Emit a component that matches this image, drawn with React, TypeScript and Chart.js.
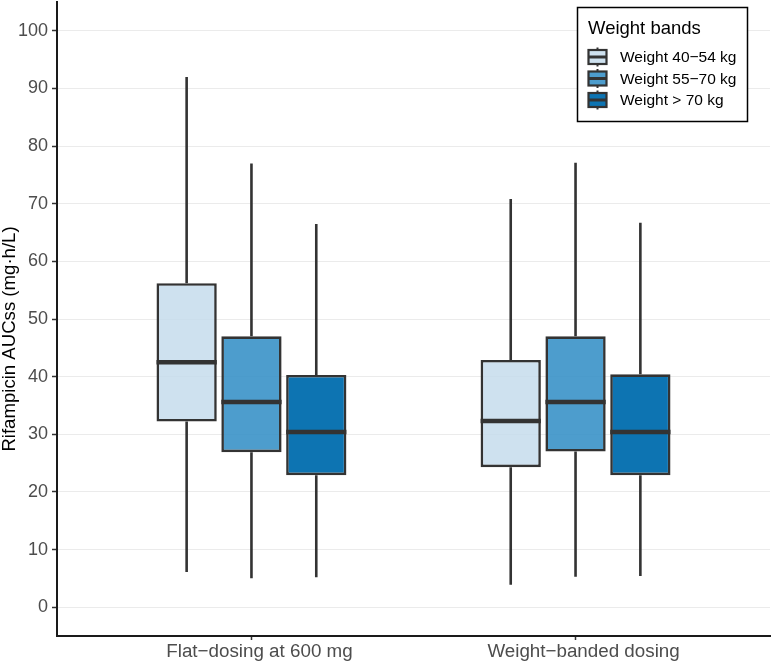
import React, { useEffect, useRef } from "react";
import { Chart, registerables } from "chart.js";

Chart.register(...registerables);

// ---- data ----
const categories = ["Flat\u2212dosing at 600 mg", "Weight\u2212banded dosing"];
const bands = ["Weight 40\u221254 kg", "Weight 55\u221270 kg", "Weight > 70 kg"];
const yTitle = "Rifampicin AUCss (mg\u00b7h/L)";
// each inner array: [flat-dosing, weight-banded]
const whiskerLow = [
  [6.1, 3.9],
  [5.0, 5.3],
  [5.2, 5.4],
];
const quartile1 = [
  [32.2, 24.3],
  [26.9, 27.0],
  [22.9, 22.9],
];
const medians = [
  [42.5, 32.3],
  [35.6, 35.6],
  [30.4, 30.4],
];
const quartile3 = [
  [56.2, 42.9],
  [47.0, 47.0],
  [40.3, 40.4],
];
const whiskerHigh = [
  [92.0, 70.8],
  [77.0, 77.1],
  [66.5, 66.7],
];
const yTicks = [0, 10, 20, 30, 40, 50, 60, 70, 80, 90, 100];

const fills = ["rgba(198,220,236,0.85)", "rgba(52,144,198,0.88)", "rgba(5,112,176,0.97)"];
const edge = "#333333";
const dodge = 0.2;
const FONT = "'Liberation Sans', Arial, sans-serif";

const xOf = (cat: number, band: number) => cat + 1 + (band - 1) * dodge;

const boxExtras = {
  id: "boxExtras",
  beforeDatasetsDraw(chart: any) {
    const { ctx, scales } = chart;
    const x = scales.x, y = scales.y;
    ctx.save();
    ctx.strokeStyle = edge;
    ctx.lineWidth = 2.6;
    ctx.lineCap = "butt";
    bands.forEach((_, b) => {
      categories.forEach((__, c) => {
        const px = x.getPixelForValue(xOf(c, b));
        ctx.beginPath();
        ctx.moveTo(px, y.getPixelForValue(whiskerLow[b][c]));
        ctx.lineTo(px, y.getPixelForValue(quartile1[b][c]));
        ctx.moveTo(px, y.getPixelForValue(quartile3[b][c]));
        ctx.lineTo(px, y.getPixelForValue(whiskerHigh[b][c]));
        ctx.stroke();
      });
    });
    ctx.restore();
  },
  afterDatasetsDraw(chart: any) {
    const { ctx, scales } = chart;
    const y = scales.y;
    ctx.save();
    ctx.strokeStyle = edge;
    ctx.lineWidth = 4.5;
    bands.forEach((_, b) => {
      const meta = chart.getDatasetMeta(b);
      meta.data.forEach((bar: any, c: number) => {
        const half = bar.width / 2;
        const py = y.getPixelForValue(medians[b][c]);
        ctx.beginPath();
        ctx.moveTo(bar.x - half, py);
        ctx.lineTo(bar.x + half, py);
        ctx.stroke();
      });
    });
    ctx.restore();
  },
  afterDraw(chart: any) {
    const { ctx, chartArea } = chart;
    ctx.save();
    // y axis title
    ctx.save();
    ctx.translate(10, (chartArea.top + chartArea.bottom) / 2 + 20);
    ctx.rotate(-Math.PI / 2);
    ctx.fillStyle = "#000000";
    ctx.font = `18.6px ${FONT}`;
    ctx.textAlign = "center";
    ctx.textBaseline = "middle";
    ctx.fillText(yTitle, 0, 0);
    ctx.restore();
    // legend
    const lx = 577.5, ly = 7.5, lw = 170, lh = 114;
    ctx.fillStyle = "#ffffff";
    ctx.fillRect(lx, ly, lw, lh);
    ctx.strokeStyle = "#000000";
    ctx.lineWidth = 1.5;
    ctx.strokeRect(lx, ly, lw, lh);
    ctx.fillStyle = "#000000";
    ctx.font = `18.5px ${FONT}`;
    ctx.textBaseline = "alphabetic";
    ctx.textAlign = "left";
    ctx.fillText("Weight bands", 588, 34);
    ctx.font = `15.5px ${FONT}`;
    ctx.textBaseline = "middle";
    bands.forEach((label, i) => {
      const cy = 57 + i * 21.5;
      const cx = 597.5;
      ctx.strokeStyle = edge;
      ctx.lineWidth = 2;
      ctx.beginPath();
      ctx.moveTo(cx, cy - 9.5);
      ctx.lineTo(cx, cy + 9.5);
      ctx.stroke();
      ctx.fillStyle = "#ffffff";
      ctx.fillRect(588.5, cy - 7, 18, 14);
      ctx.fillStyle = fills[i];
      ctx.fillRect(588.5, cy - 7, 18, 14);
      ctx.lineWidth = 2.2;
      ctx.strokeRect(588.5, cy - 7, 18, 14);
      ctx.lineWidth = 3;
      ctx.beginPath();
      ctx.moveTo(588.5, cy);
      ctx.lineTo(606.5, cy);
      ctx.stroke();
      ctx.fillStyle = "#000000";
      ctx.fillText(label, 620, cy + 1);
    });
    ctx.restore();
  },
};

export default function App() {
  const ref = useRef<HTMLCanvasElement | null>(null);
  useEffect(() => {
    if (!ref.current) return;
    const datasets = bands.map((label, b) => ({
      label,
      data: categories.map((_, c) => ({ x: xOf(c, b), y: [quartile1[b][c], quartile3[b][c]] })),
      backgroundColor: fills[b],
      borderColor: edge,
      borderWidth: 2.6,
      borderSkipped: false,
      grouped: false,
      barPercentage: 0.93,
      categoryPercentage: 1,
    }));
    const chart = new Chart(ref.current, {
      type: "bar",
      data: { datasets } as any,
      options: {
        animation: false,
        responsive: false,
        layout: { padding: { top: 2, right: 1, left: 0, bottom: 0 } },
        plugins: { legend: { display: false }, tooltip: { enabled: false } },
        scales: {
          x: {
            type: "linear",
            min: 0.4,
            max: 2.6,
            offset: false,
            afterFit: (s: any) => {
              s.height = 28;
              s.paddingLeft = 0;
              s.paddingRight = 0;
            },
            afterBuildTicks: (s: any) => { s.ticks = categories.map((_, i) => ({ value: i + 1 })); },
            ticks: {
              autoSkip: false,
              maxRotation: 0,
              padding: 1,
              labelOffset: 8,
              color: "#4d4d4d",
              font: { family: FONT, size: 18.8 },
              callback: (v: any) => categories[Number(v) - 1] ?? "",
            },
            grid: { offset: false, drawOnChartArea: false, drawTicks: true, tickLength: 4, tickColor: "#333333", tickWidth: 1.5 },
            border: { color: "#1a1a1a", width: 2 },
          },
          y: {
            type: "linear",
            min: -5,
            max: 105,
            afterFit: (s: any) => {
              s.width = 57;
              s.paddingTop = 0;
              s.paddingBottom = 0;
            },
            afterBuildTicks: (s: any) => { s.ticks = yTicks.map((v) => ({ value: v })); },
            ticks: {
              padding: 4,
              color: "#4d4d4d",
              font: { family: FONT, size: 18 },
            },
            title: { display: false },
            grid: { color: "#ebebeb", lineWidth: 1, drawTicks: true, tickLength: 5, tickColor: "#333333", tickWidth: 1.5 },
            border: { color: "#1a1a1a", width: 2 },
          },
        },
      } as any,
      plugins: [boxExtras],
    });
    return () => chart.destroy();
  }, []);
  return (
    <div style={{ position: "fixed", left: 0, top: 0, width: 771, height: 664, background: "#fff" }}>
      <canvas ref={ref} width={771} height={664} style={{ display: "block" }} />
    </div>
  );
}
